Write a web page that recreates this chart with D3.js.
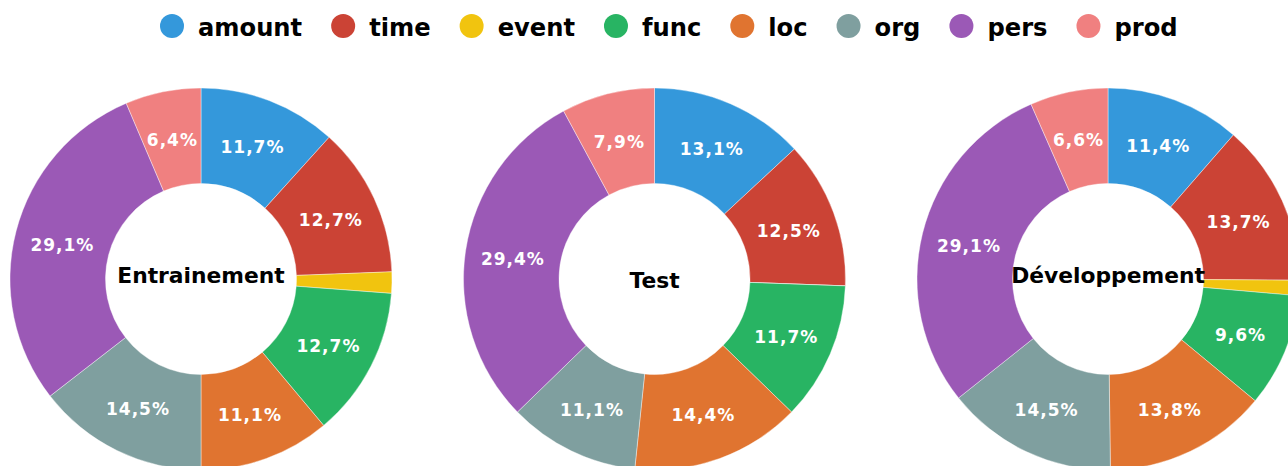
<!DOCTYPE html>
<html>
<head>
<meta charset="utf-8">
<script src="https://cdn.jsdelivr.net/npm/d3@7"></script>
<style>
  html, body { margin: 0; padding: 0; background: #fff; overflow: hidden; }
  svg { display: block; font-family: "DejaVu Sans", Verdana, sans-serif; }
</style>
</head>
<body>
<svg id="chart" width="1288" height="466"></svg>
<script>
const categories = ["amount", "time", "event", "func", "loc", "org", "pers", "prod"];
const colors = ["#3498db", "#cb4335", "#f1c40f", "#28b463", "#e07430", "#7f9f9f", "#9b59b6", "#f08080"];
const datasets = ["Entrainement", "Test", "Développement"];
const entrainement = [11.7, 12.7, 1.8, 12.7, 11.1, 14.5, 29.1, 6.4];
const test = [13.1, 12.5, 0.0, 11.7, 14.4, 11.1, 29.4, 7.9];
const developpement = [11.4, 13.7, 1.3, 9.6, 13.8, 14.5, 29.1, 6.6];
const seriesValues = [entrainement, test, developpement];

const svg = d3.select("#chart");
const color = d3.scaleOrdinal().domain(categories).range(colors);

const cx = d3.scalePoint().domain(datasets).range([201, 1108]);
const cy = 279;
const outerR = 191, innerR = 95.5;

const pie = d3.pie().sort(null).value(d => d.v);
const arc = d3.arc().innerRadius(innerR).outerRadius(outerR);
const fmt = v => d3.format(".1f")(v).replace(".", ",") + "%";

datasets.forEach((name, i) => {
  const data = categories.map((c, j) => ({ c, v: seriesValues[i][j] }));
  const g = svg.append("g").attr("transform", `translate(${cx(name)},${cy})`);
  const arcs = pie(data);
  g.selectAll("path").data(arcs).join("path")
    .attr("d", arc)
    .attr("fill", d => color(d.data.c))
    .attr("stroke", "#fff")
    .attr("stroke-width", 0.4);
  g.selectAll("text.lbl").data(arcs.filter(d => d.data.v >= 5)).join("text")
    .attr("class", "lbl")
    .attr("transform", d => `translate(${arc.centroid(d)})`)
    .attr("text-anchor", "middle")
    .attr("dy", "0.45em")
    .attr("fill", "#fff")
    .attr("font-weight", "bold")
    .attr("font-size", 17)
    .attr("letter-spacing", 1)
    .text(d => fmt(d.data.v));
  g.append("text")
    .attr("text-anchor", "middle")
    .attr("y", name === "Test" ? 9 : 4)
    .attr("font-weight", "bold")
    .attr("font-size", 21.8)
    .attr("fill", "#000")
    .text(name);
});

// Legend
const legend = svg.append("g");
let x = 160;
categories.forEach((c) => {
  const item = legend.append("g");
  item.append("circle").attr("cx", x + 12).attr("cy", 26).attr("r", 12).attr("fill", color(c));
  const t = item.append("text")
    .attr("x", x + 38).attr("y", 36)
    .attr("font-weight", "bold").attr("font-size", 24.2).attr("fill", "#000")
    .text(c);
  x = x + 38 + t.node().getComputedTextLength() + 29;
});
</script>
</body>
</html>
